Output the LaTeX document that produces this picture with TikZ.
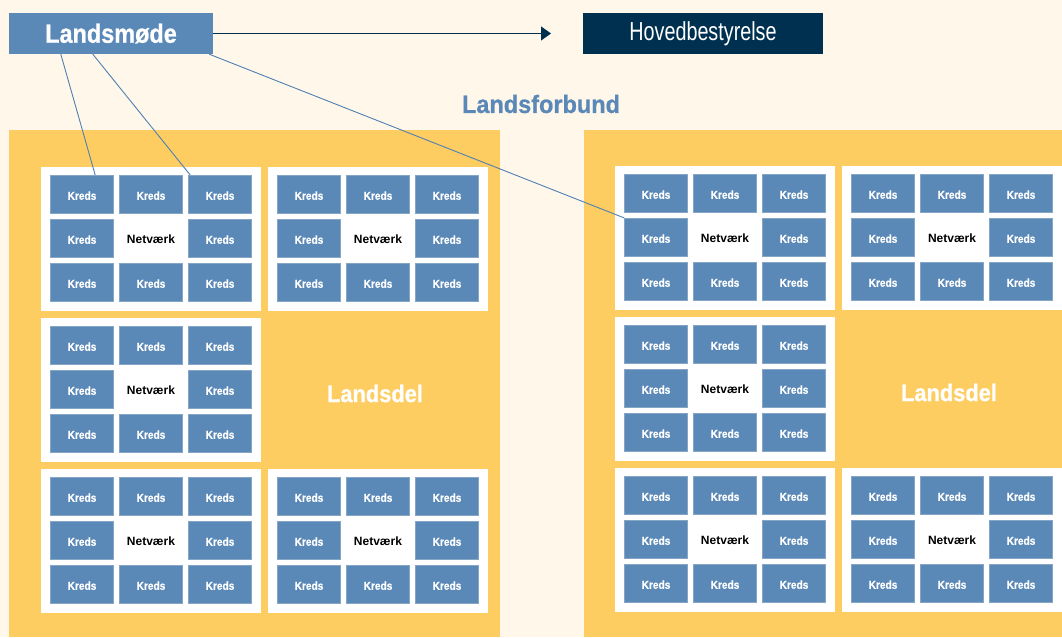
\documentclass[tikz,border=0pt]{standalone}
\usepackage{fontspec}
\setmainfont{Liberation Sans}
\newfontfamily\cfam[FakeStretch=0.88,FakeBold=0.4]{Liberation Sans}
\newfontfamily\hfam[FakeStretch=0.885,FakeBold=0.8]{Liberation Sans}
\newfontfamily\ffam[FakeStretch=0.94,FakeBold=0.8]{Liberation Sans}
\newfontfamily\dfam[FakeStretch=0.91,FakeBold=0.8]{Liberation Sans}
\newfontfamily\nfam[FakeStretch=0.76]{Liberation Sans}
\usetikzlibrary{arrows.meta}
\definecolor{bgc}{HTML}{FFF7EA}
\definecolor{ylw}{HTML}{FECD61}
\definecolor{kblue}{HTML}{5A89B8}
\definecolor{kedge}{HTML}{86A6C6}
\definecolor{navy}{HTML}{00304F}
\definecolor{lnc}{HTML}{4F7FB3}
\tikzset{
  panel/.style={fill=ylw, draw=none},
  wblock/.style={fill=white, draw=none, minimum width=220pt, minimum height=144pt, inner sep=0pt, anchor=north west},
  kreds/.style={fill=kblue, draw=kedge, line width=0.7pt, minimum width=63pt, minimum height=38.5pt, inner sep=0pt, text height=10.6pt, text depth=0pt, text=white, font=\cfam\bfseries\fontsize{11.5}{12}\selectfont},
  netv/.style={inner sep=0pt, text height=10.6pt, text depth=0pt, text=black, font=\bfseries\fontsize{12}{13}\selectfont},
  lbl/.style={inner sep=0pt, text=white, font=\dfam\bfseries\fontsize{24}{26}\selectfont},
  conn/.style={draw=lnc, line width=0.9pt},
}
\newcommand\netblock[3]{%
  \node[wblock] (#1) at (#2,#3) {};
  \foreach \c/\dx in {1/41,2/110,3/179}{%
    \foreach \r/\dy in {1/27.5,2/71.5,3/115.5}{%
      \ifnum\r\c=22\relax
      \else
        \node[kreds] (#1-\r\c) at ({#2+\dx},{#3+\dy}) {Kreds};
      \fi
    }%
  }%
  \node[netv] (#1-n) at ({#2+110},{#3+71.5}) {Netværk};
}
\begin{document}
\begin{tikzpicture}[x=1pt,y=-1pt]
  \fill[bgc] (0,0) rectangle (1062,637);
  \useasboundingbox (0,0) rectangle (1062,637);
  % panels
  \node[panel, minimum width=491pt, minimum height=507pt, inner sep=0pt, anchor=north west] (lp) at (9,130) {};
  \node[panel, minimum width=478pt, minimum height=507pt, inner sep=0pt, anchor=north west] (rp) at (584,130) {};
  % blocks left
  \netblock{LA}{41}{167}
  \netblock{LB}{268}{167}
  \netblock{LC}{41}{318}
  \netblock{LD}{41}{469}
  \netblock{LE}{268}{469}
  % blocks right
  \netblock{RA}{615}{166}
  \netblock{RB}{842}{166}
  \netblock{RC}{615}{317}
  \netblock{RD}{615}{468}
  \netblock{RE}{842}{468}
  % Landsdel labels
  \node[lbl] (ld1) at (375,393.5) {Landsdel};
  \node[lbl] (ld2) at (949,392.5) {Landsdel};
  % top boxes
  \node[fill=kblue, minimum width=204pt, minimum height=41pt, inner sep=0pt, text=white, font=\hfam\bfseries\fontsize{26.5}{28}\selectfont] (lm) at (111,33.5) {Landsmøde};
  \node[fill=navy, minimum width=240pt, minimum height=41pt, inner sep=0pt, text=white, font=\nfam\fontsize{26}{28}\selectfont] (hb) at (703,33.5) {Hovedbestyrelse};
  \node[inner sep=0pt, text=kblue, font=\ffam\bfseries\fontsize{25}{27}\selectfont] (lf) at (541,104) {Landsforbund};
  % arrow
  \coordinate (at) at (551,33.5);
  \draw[navy, line width=1pt, -{Triangle[length=10pt,width=14pt]}] (lm.east) -- (at);
  % connectors
  \draw[conn] ([xshift=52pt]lm.south west) -- ([xshift=45pt]LA-11.north west);
  \draw[conn] ([xshift=84pt]lm.south west) -- ([xshift=2pt]LA-13.north west);
  \draw[conn] ([xshift=-4pt]lm.south east) -- (RA-21.north west);
\end{tikzpicture}
\end{document}
